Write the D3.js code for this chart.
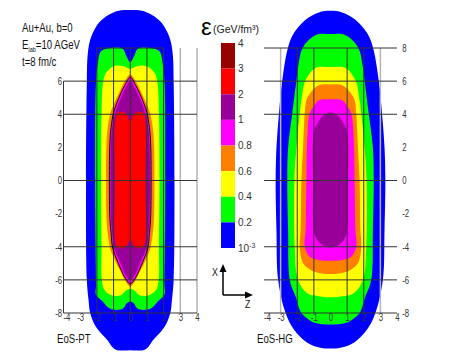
<!DOCTYPE html>
<html>
<head>
<meta charset="utf-8">
<script src="https://cdn.jsdelivr.net/npm/d3@7"></script>
<style>
  body { margin: 0; background: #fff; }
  text { font-family: "Liberation Sans", Arial, sans-serif; }
</style>
</head>
<body>
<svg width="457" height="357"></svg>
<script>
const svg = d3.select('svg');

// colour levels of the energy density (GeV/fm^3), top to bottom of the colour bar
const levelLabels = ['4', '3', '2', '1', '0.8', '0.6', '0.4', '0.2', '10'];
const levelColors = ['#990000', '#ff0000', '#990099', '#ff00ff', '#ff8000', '#ffff00', '#00ff00', '#0000ff'];

const zTicks = [-4, -3, -2, -1, 0, 1, 2, 3, 4];
const xTicksPT = [6, 4, 2, 0, -2, -4, -6, -8];
const xTicksHG = [8, 6, 4, 2, 0, -2, -4, -6, -8];

// contour outlines, right half only: [z, x] in fm, from top centre round to bottom centre
const ptBlue = [[0, 10.3], [0.7, 10.25], [1.2, 10.05], [1.7, 9.7], [2.1, 9.2], [2.4, 8.5], [2.55, 7.6], [2.6, 6], [2.65, 0], [2.6, -6], [2.5, -7.2], [2.4, -8], [2.05, -8.85], [1.4, -9.6], [0.9, -10.2], [0, -10.25]];
const ptGreen = [[0, 7.15], [0.25, 7.55], [0.45, 7.95], [1.2, 8.0], [1.75, 7.8], [1.95, 7.0], [2.05, 6.0], [2.1, 0], [2.05, -6.3], [2.05, -6.9], [1.65, -7.3], [1.2, -7.75], [0.45, -7.75], [0.2, -7.4], [0, -7.3]];
const ptYellow = [[0, 6.75], [0.4, 6.9], [1.0, 6.9], [1.45, 6.5], [1.62, 6.0], [1.72, 4.0], [1.75, 0], [1.72, -4], [1.7, -6.0], [1.55, -6.6], [1.2, -6.9], [0.6, -6.95], [0.2, -6.6], [0, -6.55]];
const ptOrange = [[0, 6.4], [0.3, 6.05], [0.6, 5.45], [0.88, 4.85], [1.18, 4.1], [1.35, 3.2], [1.42, 2.3], [1.45, 0], [1.42, -2.3], [1.35, -3.2], [1.2, -4.1], [0.88, -4.9], [0.6, -5.45], [0.3, -6.05], [0, -6.4]];
const ptMagenta = [[0, 6.25], [0.3, 5.8], [0.55, 5.3], [0.8, 4.7], [1.0, 4.1], [1.15, 3.2], [1.22, 2.3], [1.25, 0], [1.22, -2.3], [1.15, -3.2], [1.05, -4.1], [0.8, -4.8], [0.55, -5.4], [0.3, -5.9], [0, -6.25]];
const ptPurple = [[0, 6.0], [0.3, 5.55], [0.5, 5.1], [0.72, 4.6], [0.92, 4.0], [1.08, 3.2], [1.15, 2.3], [1.18, 0], [1.15, -2.3], [1.08, -3.2], [0.95, -4.1], [0.72, -4.7], [0.5, -5.2], [0.28, -5.7], [0, -6.0]];
const ptRed = [[0, 3.55], [0.15, 3.9], [0.35, 4.1], [0.75, 4.1], [0.9, 3.6], [0.92, 0], [0.9, -3.6], [0.75, -4.05], [0.35, -4.05], [0.15, -3.85], [0, -3.55]];

const hgBlue = [[0, 10.25], [0.7, 10.15], [1.5, 9.7], [2.2, 8.9], [2.55, 8.05], [2.9, 6.05], [3.1, 4.05], [3.25, 2], [3.3, 0], [3.25, -3], [3.15, -6], [2.7, -8], [2.2, -9], [1.4, -9.8], [0.6, -10.1], [0, -10.15]];
const hgGreen = [[0, 8.85], [0.85, 8.8], [1.65, 8.05], [1.95, 6.85], [2.05, 6.05], [2.3, 4.05], [2.55, 2], [2.6, 0], [2.55, -3], [2.45, -6], [2.1, -7], [1.75, -8], [1.3, -8.4], [0.9, -8.6], [0, -8.7]];
const hgYellow = [[0, 6.85], [0.9, 6.8], [1.5, 6.05], [1.75, 4.85], [1.85, 4.05], [2.05, 2], [2.17, 0], [2.15, -4], [1.95, -6], [1.4, -6.8], [0.6, -7.0], [0, -7.05]];
const hgOrange = [[0, 5.8], [0.7, 5.75], [1.2, 5.3], [1.45, 4.85], [1.55, 4.05], [1.65, 2], [1.75, 0], [1.8, -3], [1.85, -4], [1.65, -5], [1.2, -5.4], [0.6, -5.6], [0, -5.65]];
const hgMagenta = [[0, 4.9], [0.7, 4.85], [1.0, 4.5], [1.25, 4.05], [1.4, 2.5], [1.45, 0], [1.5, -3], [1.55, -4], [1.25, -4.6], [0.7, -4.8], [0, -4.85]];
const hgPurple = [[0, 4.1], [0.4, 3.95], [0.7, 3.6], [0.95, 3.1], [1.05, 2.4], [1.05, 0], [1.0, -3], [0.85, -3.5], [0.55, -3.85], [0, -4.05]];

const yScale = d3.scaleLinear().domain([-8, 8]).range([313, 48]);
const xPT = d3.scaleLinear().domain([-4, 4]).range([63.5, 197]);
const xHG = d3.scaleLinear().domain([-4, 4]).range([264, 397]);

const mirror = pts => pts.concat(pts.slice(1, -1).reverse().map(([z, x]) => [-z, x]));

const drawPanel = (xScale, shapes, grid) => {
  const g = svg.append('g');
  const line = d3.line()
    .x(d => xScale(d[0]))
    .y(d => yScale(d[1]))
    .curve(d3.curveCatmullRomClosed.alpha(0.5));

  g.selectAll('path.level').data(shapes)
    .enter().append('path')
      .attr('class', 'level')
      .attr('d', d => line(mirror(d[0])))
      .attr('fill', d => d[1]);

  // grid lines
  g.selectAll('line.gv').data(grid.gray)
    .enter().append('line')
      .attr('x1', d => xScale(d)).attr('x2', d => xScale(d))
      .attr('y1', yScale(8)).attr('y2', yScale(-8))
      .attr('stroke', '#b4b4b4').attr('stroke-width', 1.5);
  g.selectAll('line.dv').data(grid.dark)
    .enter().append('line')
      .attr('x1', d => xScale(d)).attr('x2', d => xScale(d))
      .attr('y1', yScale(8)).attr('y2', yScale(-8))
      .attr('stroke', '#333').attr('stroke-width', 1);
  g.selectAll('line.h').data(grid.rows)
    .enter().append('line')
      .attr('x1', d => xScale(d[1])).attr('x2', d => xScale(d[2]))
      .attr('y1', d => yScale(d[0])).attr('y2', d => yScale(d[0]))
      .attr('stroke', '#333').attr('stroke-width', 1);
  return g;
};

const gPT = drawPanel(xPT,
  [[ptBlue, levelColors[7]], [ptGreen, levelColors[6]], [ptYellow, levelColors[5]], [ptOrange, levelColors[4]],
   [ptMagenta, levelColors[3]], [ptPurple, levelColors[2]], [ptRed, levelColors[1]]],
  { gray: [3, 4], dark: [-2, -1, 0, 1, 2],
    rows: [[8, -2, 2], [6, -4, 4], [4, -4, 4], [0, -4, 4], [-4, -4, 4], [-6, -4, 4], [-8, -4, 4]] });

// left axis line of the first panel
gPT.append('line')
  .attr('x1', xPT(-4)).attr('x2', xPT(-4))
  .attr('y1', yScale(6)).attr('y2', yScale(-8))
  .attr('stroke', '#333');

// transition contour (black line)
gPT.append('path')
  .attr('d', d3.line().x(d => xPT(d[0])).y(d => yScale(d[1])).curve(d3.curveCatmullRomClosed.alpha(0.5))(mirror(ptMagenta)))
  .attr('fill', 'none').attr('stroke', '#111').attr('stroke-width', 1);

drawPanel(xHG,
  [[hgBlue, levelColors[7]], [hgGreen, levelColors[6]], [hgYellow, levelColors[5]], [hgOrange, levelColors[4]],
   [hgMagenta, levelColors[3]], [hgPurple, levelColors[2]]],
  { gray: [-3, 3], dark: [-2, -1, 1, 2],
    rows: [[8, -4, 4], [6, -4, 4], [4, -4, 4], [0, -4, 4], [-4, -4, 4], [-6, -4, 4], [-8, -4, 4]] });

// axes (labels only), narrow glyphs as in the original figure
const styleAxis = sel => {
  sel.select('.domain').remove();
  sel.selectAll('text').attr('fill', '#333').attr('font-size', 10.5)
    .attr('transform', 'scale(0.74,1)');
};
const fmt = d => String(d);

svg.append('g').attr('transform', `translate(0,${yScale(-8)})`)
  .call(d3.axisBottom(xPT).tickValues(zTicks).tickSize(0).tickPadding(1).tickFormat(fmt))
  .call(styleAxis)
  .selectAll('text').attr('dx', d => d === -4 ? 4 : 0);
svg.append('g').attr('transform', `translate(0,${yScale(-8)})`)
  .call(d3.axisBottom(xHG).tickValues(zTicks).tickSize(0).tickPadding(1).tickFormat(fmt))
  .call(styleAxis)
  .selectAll('text').attr('dx', d => d === -4 ? 4 : 0);
svg.append('g').attr('transform', `translate(${xPT(-4)},0)`)
  .call(d3.axisLeft(yScale).tickValues(xTicksPT).tickSize(0).tickPadding(2).tickFormat(fmt))
  .call(styleAxis);
svg.append('g').attr('transform', `translate(${xHG(4)},0)`)
  .call(d3.axisRight(yScale).tickValues(xTicksHG).tickSize(0).tickPadding(7).tickFormat(fmt))
  .call(styleAxis);

// colour bar
const barScale = d3.scaleLinear().domain([0, 8]).range([43, 248]);
const bar = svg.append('g');
bar.selectAll('rect').data(levelColors)
  .enter().append('rect')
    .attr('x', 221).attr('width', 14)
    .attr('y', (d, i) => barScale(i))
    .attr('height', (d, i) => barScale(i + 1) - barScale(i))
    .attr('fill', d => d);
const barText = bar.selectAll('text').data(levelLabels)
  .enter().append('text')
    .attr('x', 238).attr('y', (d, i) => barScale(i))
    .attr('dy', '0.35em')
    .attr('font-size', 10).attr('fill', '#333')
    .text(d => d);
barText.filter((d, i) => i === levelLabels.length - 1)
  .append('tspan').attr('dy', -4).attr('font-size', 7).text('-3');

svg.append('text').attr('x', 201).attr('y', 35).attr('font-size', 24).text('ε');
svg.append('text').attr('x', 213).attr('y', 33)
  .attr('font-size', 10.5).attr('fill', '#222')
  .text('(GeV/fm³)');

// annotations (condensed horizontally)
const note = (x, y) => svg.append('g')
  .attr('transform', `translate(${x},${y}) scale(0.8,1)`)
  .append('text').attr('font-size', 12).attr('fill', '#111');
note(22, 32).text('Au+Au, b=0');
const e = note(22, 49).text('E');
e.append('tspan').attr('font-size', 7).attr('dy', 3).text('lab');
e.append('tspan').attr('dy', -3).text('=10 AGeV');
note(22, 66).text('t=8 fm/c');
note(57, 343).text('EoS-PT');
note(257, 343).text('EoS-HG');

// X / Z direction arrows
const arr = svg.append('g').attr('stroke', '#000').attr('stroke-width', 1.5);
arr.append('line').attr('x1', 223).attr('y1', 295).attr('x2', 223).attr('y2', 270);
arr.append('line').attr('x1', 223).attr('y1', 295).attr('x2', 246).attr('y2', 295);
svg.append('path').attr('d', 'M223,264 L219.5,272 L226.5,272 Z').attr('fill', '#000');
svg.append('path').attr('d', 'M253,295 L245,291.5 L245,298.5 Z').attr('fill', '#000');
note(212, 276).attr('font-size', 11).text('X');
note(245, 308).attr('font-size', 11).text('Z');
</script>
</body>
</html>
